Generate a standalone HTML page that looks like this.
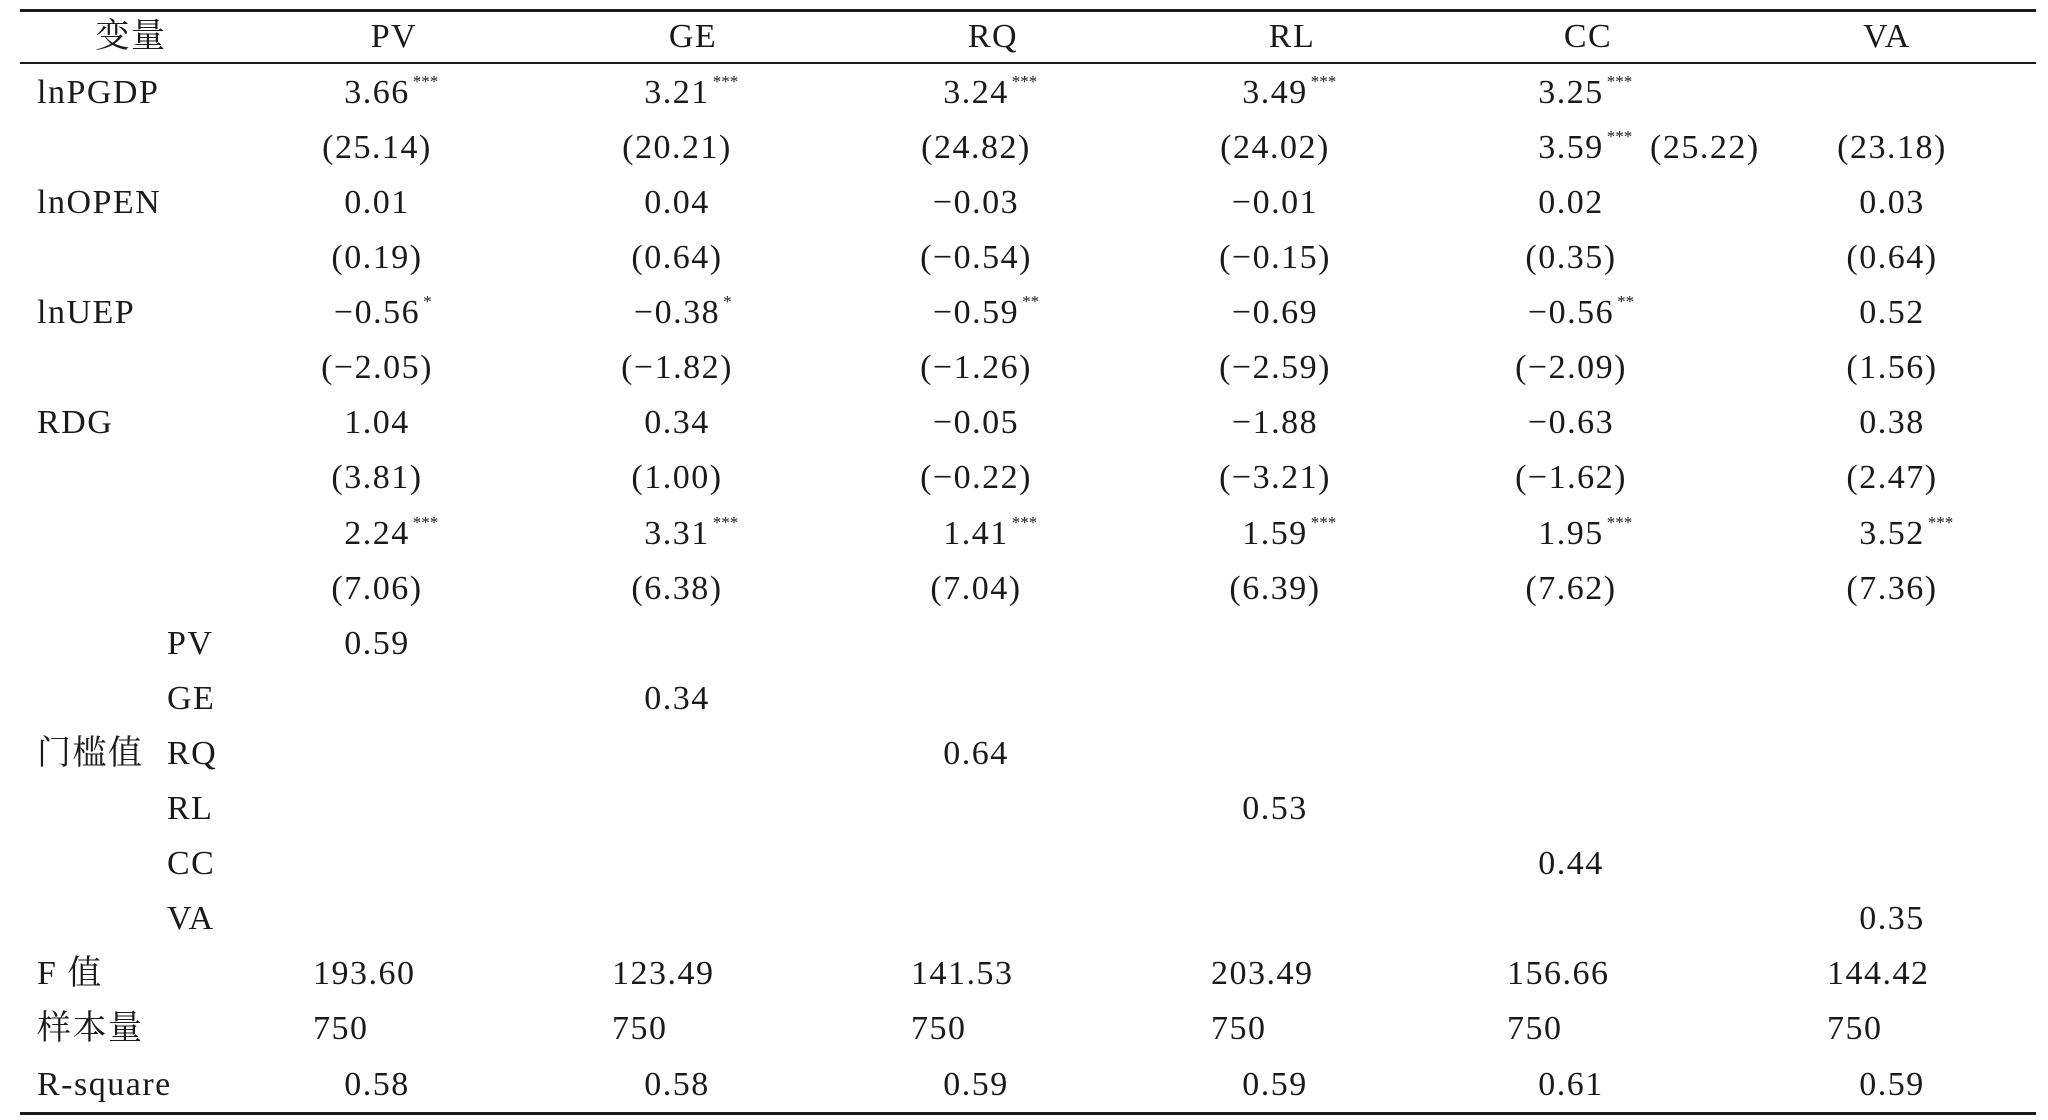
<!DOCTYPE html>
<html><head><meta charset="utf-8">
<style>
html,body{margin:0;padding:0;background:#fff;}
#t{position:relative;width:2048px;height:1120px;overflow:hidden;font-family:"Liberation Serif","Noto Serif CJK SC",serif;color:#1a1a1a;}
.c{position:absolute;white-space:nowrap;font-size:34px;letter-spacing:1.5px;line-height:40px;}
.s{position:absolute;font-size:17px;line-height:18px;white-space:nowrap;}
.ln{position:absolute;left:20px;width:2016px;background:#1a1a1a;}
</style></head><body>
<div id="t">
<div class="ln" style="top:9px;height:3px"></div>
<div class="ln" style="top:62px;height:2px"></div>
<div class="ln" style="top:1112px;height:3px"></div>
</div>
<script>
const headers=["PV","GE","RQ","RL","CC","VA"];
const rowLabels=["lnPGDP","","lnOPEN","","lnUEP","","RDG","","","","","","门槛值","","","","F 值","样本量","R-square"];
const subLabels=["","","","","","","","","","","PV","GE","RQ","RL","CC","VA","","",""];
const cells=[
["3.66|***","3.21|***","3.24|***","3.49|***","3.25|***",""],
["(25.14)","(20.21)","(24.82)","(24.02)","3.59|***","(23.18)"],
["0.01","0.04","-0.03","-0.01","0.02","0.03"],
["(0.19)","(0.64)","(-0.54)","(-0.15)","(0.35)","(0.64)"],
["-0.56|*","-0.38|*","-0.59|**","-0.69","-0.56|**","0.52"],
["(-2.05)","(-1.82)","(-1.26)","(-2.59)","(-2.09)","(1.56)"],
["1.04","0.34","-0.05","-1.88","-0.63","0.38"],
["(3.81)","(1.00)","(-0.22)","(-3.21)","(-1.62)","(2.47)"],
["2.24|***","3.31|***","1.41|***","1.59|***","1.95|***","3.52|***"],
["(7.06)","(6.38)","(7.04)","(6.39)","(7.62)","(7.36)"],
["0.59","","","","",""],
["","0.34","","","",""],
["","","0.64","","",""],
["","","","0.53","",""],
["","","","","0.44",""],
["","","","","","0.35"],
["L193.60","L123.49","L141.53","L203.49","L156.66","L144.42"],
["L750","L750","L750","L750","L750","L750"],
["0.58","0.58","0.59","0.59","0.61","0.59"]
];
const t=document.getElementById('t');
const headX=[394,693,993,1292,1588,1887];
const colX=[377,677,976,1275,1571,1892];
const leftX=[313,612,911,1211,1507,1827];
function rowY(i){return 92.7+i*55.1;}
function put(txt,x,y,align,name){
  const d=document.createElement('div');
  d.className='c';
  
  
  d.textContent=txt;
  d.style.left=x+'px';d.style.top=(y-20)+'px';
  if(align==='c')d.style.transform='translateX(-50%)';
  t.appendChild(d);return d;
}
headers.forEach((h,j)=>put(h,headX[j],36.6,'c','header-'+h.toLowerCase()));
put('变量',131,36.6,'c','header-variable');
rowLabels.forEach((l,i)=>{if(l)put(l,37,rowY(i),'l','row-label-'+i);});
subLabels.forEach((l,i)=>{if(l)put(l,167,rowY(i),'l','threshold-label-'+l.toLowerCase());});
cells.forEach((row,i)=>row.forEach((v,j)=>{
  if(!v)return;
  const y=rowY(i);
  if(v[0]==='L'){put(v.slice(1),leftX[j],y,'l','cell-'+i+'-'+j);return;}
  const parts=v.split('|');
  const txt=parts[0].replace(/-/g,'−');
  const d=put(txt,colX[j],y,'c','cell-'+i+'-'+j);
  if(parts[1]){
    const w=d.getBoundingClientRect().width;
    const s=document.createElement('div');
    s.className='s';
    
    
    s.textContent=parts[1];
    s.style.left=(colX[j]+w/2+3)+'px';s.style.top=(y-20)+'px';
    t.appendChild(s);
  }
  if(i===1&&j===4){
    const e=put('(25.22)',1650,y,'l','cell-1-4-t');
  }
}));
</script>
</body></html>
